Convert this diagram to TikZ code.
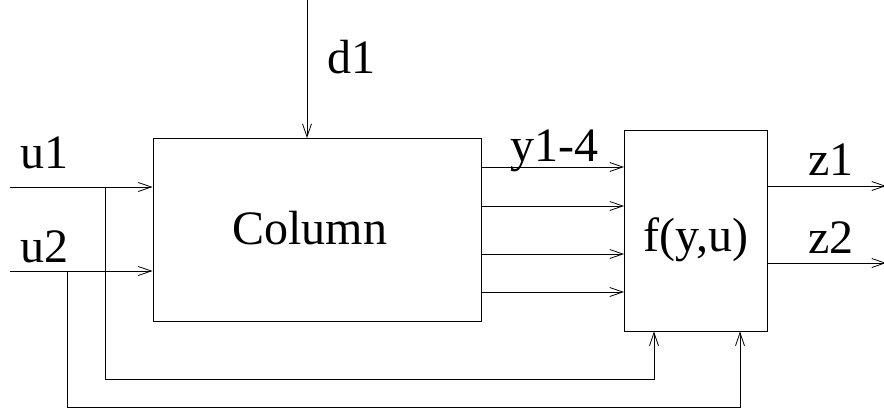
\documentclass[tikz,border=0pt]{standalone}
\usepackage{fontspec}
\setmainfont{Liberation Serif}
\usetikzlibrary{arrows.meta}
\begin{document}
\begin{tikzpicture}[x=1pt,y=-1pt,
  line width=1pt,
  sig/.style={-{Straight Barb[length=13pt,width=9pt,line width=0.8pt]}},
  block/.style={draw, rectangle, inner sep=0pt},
  lbl/.style={anchor=base west, inner sep=0pt, font=\fontsize{48}{58}\selectfont}]
\useasboundingbox (0,0) rectangle (884,413);

% blocks
\node[block, minimum width=328pt, minimum height=183pt] (col) at (317,230) {};
\node[block, minimum width=143pt, minimum height=201pt] (f) at (696,230.5) {};

% block texts
\node[lbl] (coltext) at (232,244) {Column};
\node[lbl] (ftext) at (643,251) {f(y,u)};

% disturbance
\coordinate (d1s) at (307,0);
\draw[sig] (d1s) -- (d1s |- col.north);
\node[lbl] (d1l) at (327,73) {d1};

% manipulated inputs
\coordinate (u1s) at (10,187);
\coordinate (u2s) at (10,271);
\draw[sig] (u1s) -- (u1s -| col.west);
\draw[sig] (u2s) -- (u2s -| col.west);
\node[lbl] (u1l) at (20,168) {u1};
\node[lbl] (u2l) at (20,262) {u2};

% feed-forward of inputs to f
\coordinate (b1) at (105,187);
\coordinate (c1) at (105,379);
\coordinate (e1) at (654,379);
\draw[sig] (b1) -- (c1) -- (e1) -- (e1 |- f.south);
\coordinate (b2) at (67,271);
\coordinate (c2) at (67,407);
\coordinate (e2) at (740,407);
\draw[sig] (b2) -- (c2) -- (e2) -- (e2 |- f.south);

% measurements y1..y4
\foreach \yy [count=\i] in {167,206,254,292} {
  \coordinate (ys\i) at (481,\yy);
  \draw[sig] (ys\i) -- (ys\i -| f.west);
}
\node[lbl] (yl) at (510,161) {y1-4};

% outputs
\coordinate (z1e) at (886,186);
\coordinate (z2e) at (886,263);
\draw[sig] (z1e -| f.east) -- (z1e);
\draw[sig] (z2e -| f.east) -- (z2e);
\node[lbl] (z1l) at (808,175) {z1};
\node[lbl] (z2l) at (808,253) {z2};
\end{tikzpicture}
\end{document}
